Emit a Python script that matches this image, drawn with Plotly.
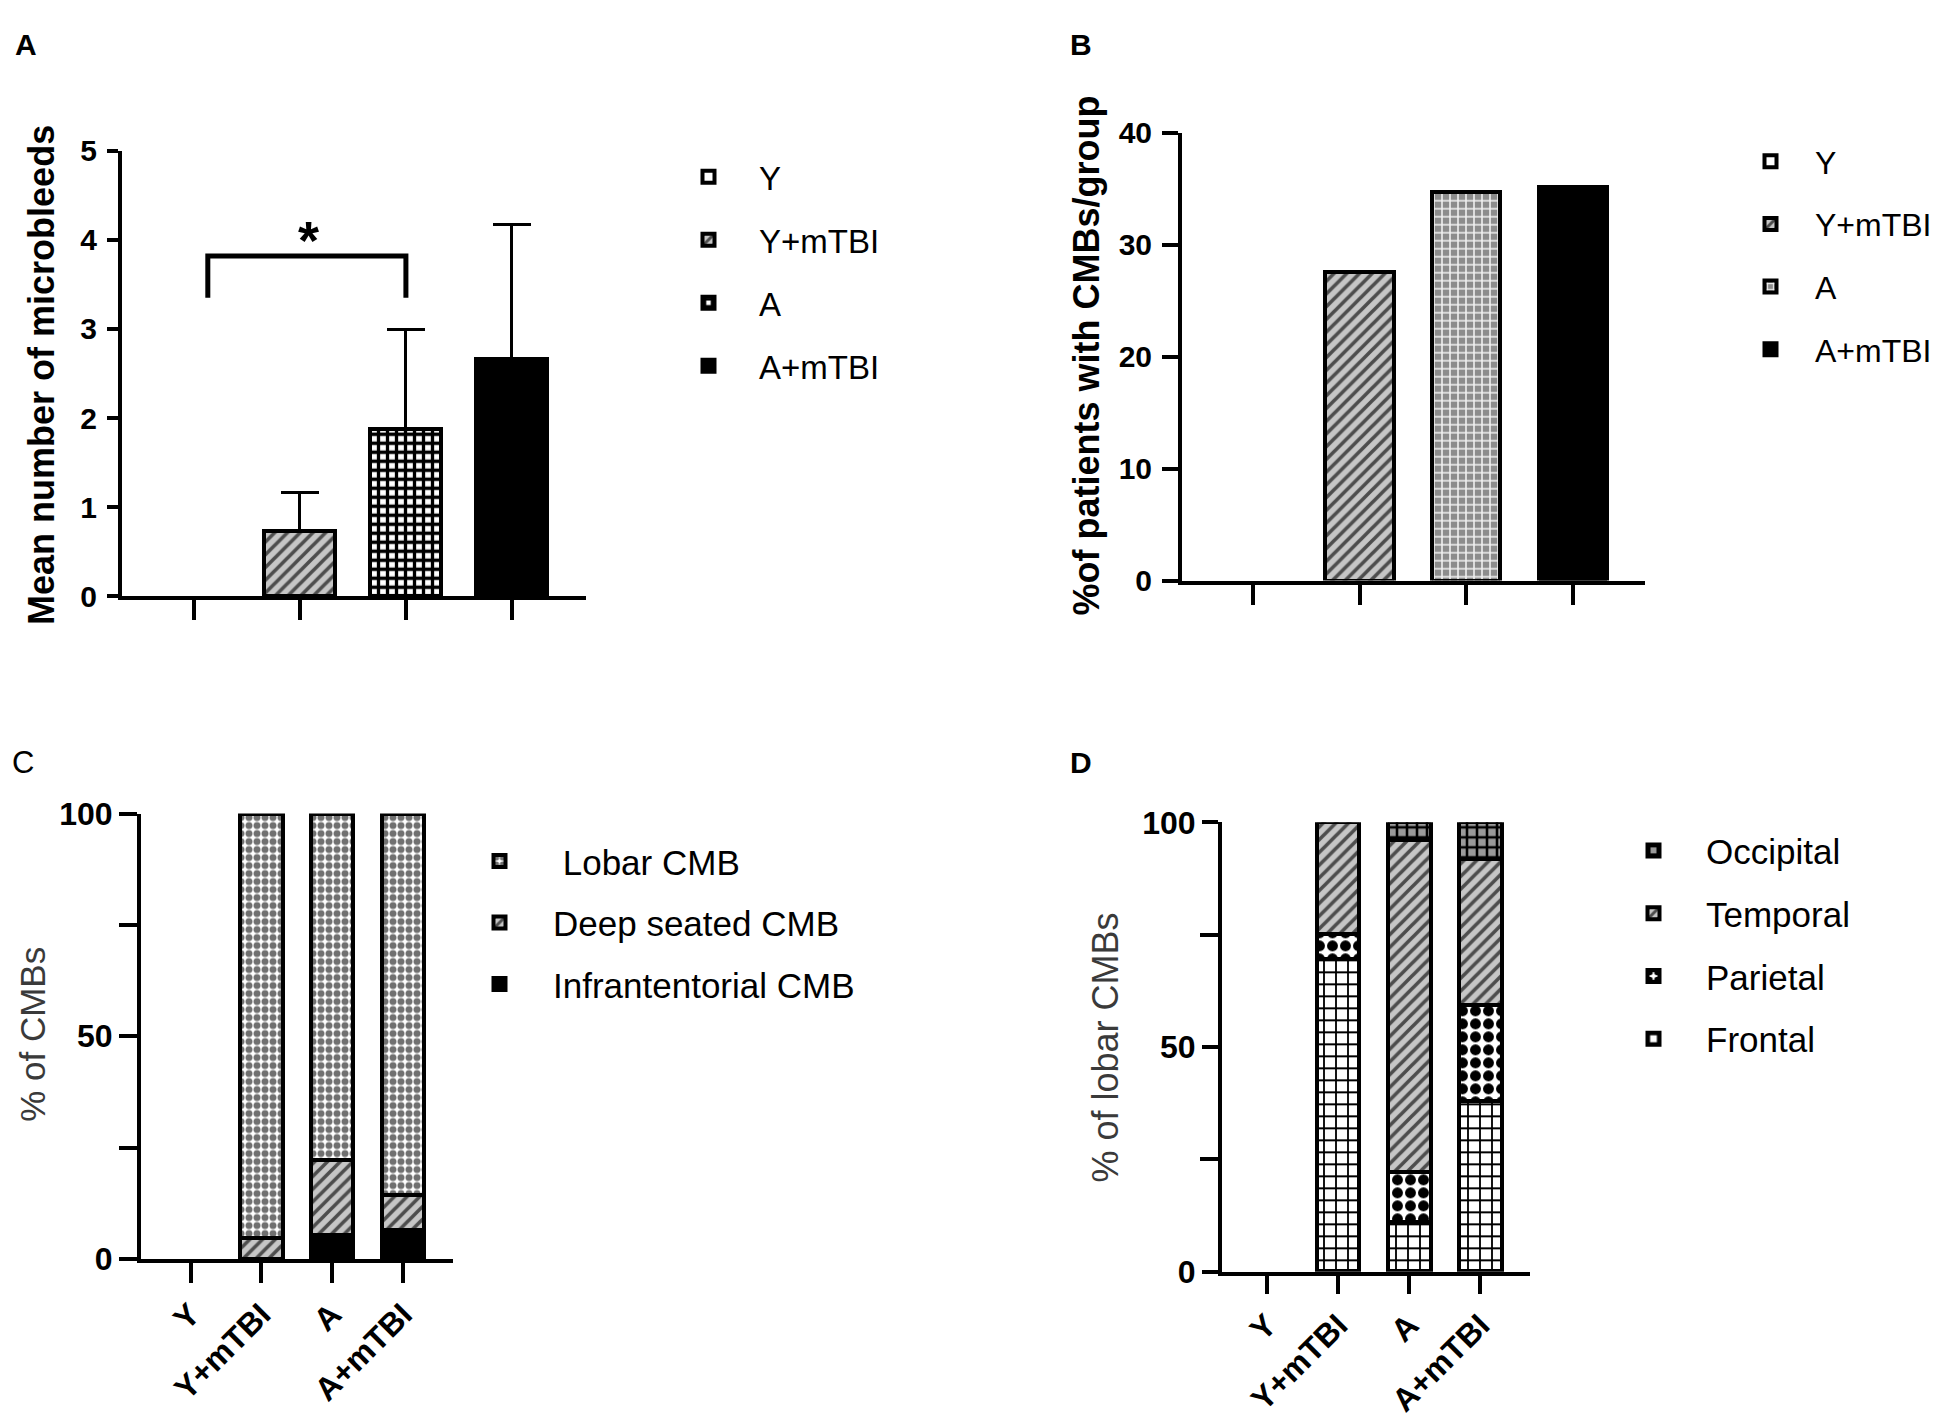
import plotly.graph_objects as go

W, H = 1950, 1424
FONT = "Liberation Sans, Arial, Helvetica, sans-serif"

GROUPS = ["Y", "Y+mTBI", "A", "A+mTBI"]

# A: mean number of microbleeds, with the upper error bar length
MEAN_CMB = [0.0, 0.73, 1.88, 2.66]
ERR_CMB = [0.0, 0.43, 1.11, 1.51]

# significance bracket Y vs A
BRACKET_X = [0.13, 0.13, 2.0, 2.0]
BRACKET_Y = [3.35, 3.82, 3.82, 3.35]
STAR_X, STAR_Y = 1.08, 4.0

# B: % of patients with CMBs per group
PCT_PATIENTS = [0.0, 27.6, 34.75, 35.2]

# C: location of CMBs (stacked, bottom to top)
CMB_TYPES = ["Infrantentorial CMB", "Deep seated CMB", " Lobar CMB"]
INFRA = [0, 0, 5.6, 6.7]
DEEP = [0, 4.8, 16.7, 7.8]
LOBAR = [0, 95.2, 77.7, 85.5]

# D: lobe of lobar CMBs (stacked, bottom to top)
LOBES = ["Frontal", "Parietal", "Temporal", "Occipital"]
FRONTAL = [0, 69.5, 11.0, 37.9]
PARIETAL = [0, 5.5, 11.1, 21.3]
TEMPORAL = [0, 25.0, 73.8, 32.5]
OCCIPITAL = [0, 0, 4.1, 8.3]


def pattern(shape, fg, bg, size, solidity):
    return dict(shape=shape, fgcolor=fg, bgcolor=bg, size=size,
                solidity=solidity, fillmode="replace")


OPEN = dict(color="white", pattern=None)
SOLID = dict(color="black", pattern=None)
HATCH = dict(color="#c6c6c6", pattern=pattern("/", "#4d4d4d", "#c6c6c6", 9, 0.4))
BRICK_DARK = dict(color="white", pattern=pattern("+", "black", "white", 9, 0.6))
BRICK_GREY = dict(color="#8c8c8c", pattern=pattern("+", "#f2f2f2", "#8c8c8c", 8, 0.35))
CHECK_GREY = dict(color="white", pattern=pattern(".", "#707070", "white", 8, 0.6))
CHECK_BLACK = dict(color="white", pattern=pattern(".", "black", "white", 13, 0.55))
BRICK_LIGHT = dict(color="white", pattern=pattern("+", "black", "white", 12, 0.28))
BRICK_OCC = dict(color="#9a9a9a", pattern=pattern("+", "black", "#9a9a9a", 10, 0.45))

fig = go.Figure()


def add_bar(x, y, name, style, n, width, rank=1000, err=None):
    # empty (zero) bars are left out so their outline does not thicken the axis
    shown = [v if v > 0 else None for v in y]
    marker = dict(color=style["color"], line=dict(color="black", width=4))
    if style["pattern"]:
        marker["pattern"] = style["pattern"]
    sfx = "" if n == 1 else str(n)
    fig.add_trace(go.Bar(
        x=x, y=shown, name=name, marker=marker, width=width,
        xaxis="x" + sfx, yaxis="y" + sfx,
        legend="legend" + sfx, legendgroup="lg%d_%s" % (n, name),
        legendrank=rank, error_y=err, hoverinfo="skip",
    ))


# panel A
styles_a = [OPEN, HATCH, BRICK_DARK, SOLID]
for i, g in enumerate(GROUPS):
    err = None
    if ERR_CMB[i] > 0:
        err = dict(type="data", symmetric=False, array=[ERR_CMB[i]],
                   arrayminus=[0], color="black", thickness=3, width=19)
    add_bar([i], [MEAN_CMB[i]], g, styles_a[i], 1, 0.67, i, err)

fig.add_trace(go.Scatter(
    x=BRACKET_X, y=BRACKET_Y, mode="lines", xaxis="x", yaxis="y",
    line=dict(color="black", width=5), showlegend=False, hoverinfo="skip",
))

# panel B
styles_b = [OPEN, HATCH, BRICK_GREY, SOLID]
for i, g in enumerate(GROUPS):
    add_bar([i], [PCT_PATIENTS[i]], g, styles_b[i], 2, 0.64, i)

# panel C (legend lists the top segment first)
xs = list(range(len(GROUPS)))
for k, (name, vals, st) in enumerate(zip(CMB_TYPES, [INFRA, DEEP, LOBAR],
                                         [SOLID, HATCH, CHECK_GREY])):
    add_bar(xs, vals, name, st, 3, 0.6, 10 - k)

# panel D
for k, (name, vals, st) in enumerate(zip(LOBES, [FRONTAL, PARIETAL, TEMPORAL, OCCIPITAL],
                                         [BRICK_LIGHT, CHECK_BLACK, HATCH, BRICK_OCC])):
    add_bar(xs, vals, name, st, 4, 0.6, 10 - k)


def px_x(p):
    return p / W


def px_y(p):
    return 1 - p / H


AX = dict(showline=True, linecolor="black", linewidth=4, ticks="outside",
          tickcolor="black", tickwidth=4, showgrid=False, zeroline=False,
          fixedrange=True)
TICK_AB = dict(family=FONT, size=30, color="black", weight="bold")
TICK_CD = dict(family=FONT, size=32, color="black", weight="bold")
TICK_CDX = dict(family=FONT, size=32, color="black", weight="bold")
MINOR = dict(tickvals=[25, 75], ticks="outside", ticklen=18, tickwidth=4,
             tickcolor="black")

layout_axes = dict(
    xaxis=dict(AX, domain=[px_x(114), px_x(578)], range=[-0.68, 3.70], anchor="y",
               tickvals=xs, showticklabels=False, ticklen=20),
    yaxis=dict(AX, domain=[px_y(585), px_y(128)], range=[0, 5], anchor="x",
               dtick=1, ticklen=11, tickfont=TICK_AB, ticklabelstandoff=4),
    xaxis2=dict(AX, domain=[px_x(1174), px_x(1637)], range=[-0.665, 3.675], anchor="y2",
                tickvals=xs, showticklabels=False, ticklen=20),
    yaxis2=dict(AX, domain=[px_y(569), px_y(109.5)], range=[0, 40], anchor="x2",
                dtick=10, ticklen=16, tickfont=TICK_AB, ticklabelstandoff=4),
    xaxis3=dict(AX, domain=[px_x(133), px_x(445)], range=[-0.70, 3.71], anchor="y3",
                tickvals=xs, ticktext=GROUPS, tickangle=-45, ticklen=20, tickfont=TICK_CDX),
    yaxis3=dict(AX, domain=[px_y(1265), px_y(808)], range=[0, 100], anchor="x3",
                tickvals=[0, 50, 100], ticklen=18, tickfont=TICK_CD, minor=MINOR),
    xaxis4=dict(AX, domain=[px_x(1214), px_x(1522)], range=[-0.634, 3.70], anchor="y4",
                tickvals=xs, ticktext=GROUPS, tickangle=-45, ticklen=18, tickfont=TICK_CDX),
    yaxis4=dict(AX, domain=[px_y(1278), px_y(817)], range=[0, 100], anchor="x4",
                tickvals=[0, 50, 100], ticklen=16, tickfont=TICK_CD, minor=MINOR),
)


def legend_at(swatch_x, text_x, first_y, step, size):
    # plotly puts the swatch at (itemwidth + 10) / 2 and the text at itemwidth + 10
    gap = text_x - swatch_x
    itemwidth = 2 * gap - 10
    left = text_x - (itemwidth + 10) - 5
    item_h = 1.3 * size + 3
    top = first_y - 5 - item_h / 2
    return dict(x=px_x(left), y=px_y(top), xanchor="left", yanchor="top",
                itemwidth=itemwidth, tracegroupgap=step - item_h,
                traceorder="grouped", bgcolor="rgba(0,0,0,0)",
                font=dict(family=FONT, size=size, color="black"))


def label(x, y, text, size, bold=True, angle=0, color="black", ref=("paper", "paper")):
    return dict(x=x, y=y, xref=ref[0], yref=ref[1], text=text, showarrow=False,
                textangle=angle, xanchor="center", yanchor="middle",
                font=dict(family=FONT, size=size, color=color,
                          weight="bold" if bold else "normal"))


annotations = [
    label(px_x(18), px_y(19), "A", 30),
    label(px_x(1073), px_y(19), "B", 30),
    label(px_x(15), px_y(756), "C", 31, bold=False),
    label(px_x(1073), px_y(756), "D", 30),
    label(px_x(34), px_y(358), "Mean number of microbleeds", 36, angle=-90),
    label(px_x(1078), px_y(338), "%of patients with CMBs/group", 36, angle=-90),
    label(px_x(25), px_y(1035), "% of CMBs", 35, bold=False, angle=-90, color="#3a3a3a"),
    label(px_x(1098), px_y(1048), "% of lobar CMBs", 36, bold=False, angle=-90, color="#3a3a3a"),
    label(STAR_X, STAR_Y, "*", 54, ref=("x", "y")),
]

fig.update_layout(
    width=W, height=H,
    margin=dict(l=0, r=0, t=0, b=0),
    paper_bgcolor="white", plot_bgcolor="white",
    barmode="stack", bargap=0,
    font=dict(family=FONT, color="black"),
    legend=legend_at(705.5, 756, 154, 63, 33),
    legend2=legend_at(1767.5, 1812, 138, 62.7, 32),
    legend3=legend_at(496.5, 550, 856, 61.5, 35),
    legend4=legend_at(1650.5, 1703, 845, 62.8, 35),
    annotations=annotations,
    **layout_axes,
)

fig.write_html("out.html")
